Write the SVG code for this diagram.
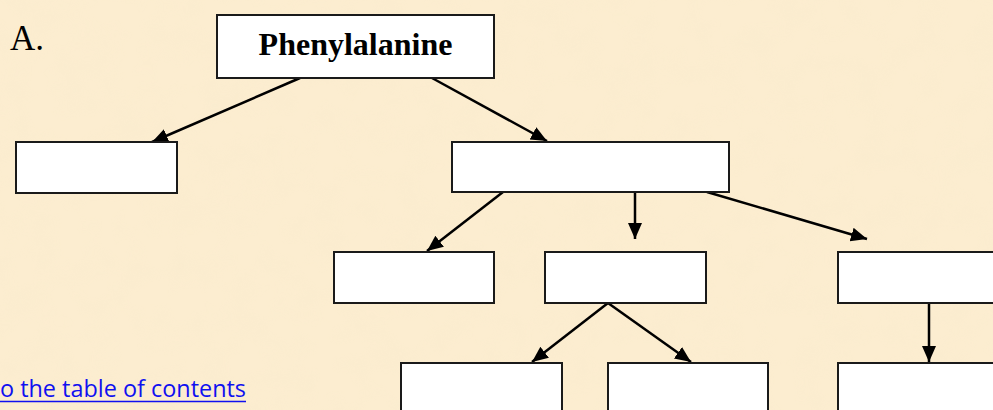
<svg xmlns="http://www.w3.org/2000/svg" width="993" height="410" viewBox="0 0 993 410">
  <style>
    .box { fill: #ffffff; stroke: #1a1a1a; stroke-width: 2; }
    .conn { stroke: #000000; stroke-width: 2.5; fill: none; marker-end: url(#ah); }
    .title { font-family: "Liberation Serif", "Times New Roman", serif; font-weight: bold; font-size: 32px; fill: #000; }
    .label { font-family: "Liberation Serif", "Times New Roman", serif; font-size: 35px; fill: #000; }
    .link { font-family: "Open Sans", "Noto Sans", sans-serif; font-size: 23px; fill: #1010f0; }
  </style>
  <defs>
    <marker id="ah" markerUnits="userSpaceOnUse" markerWidth="18" markerHeight="16" refX="16" refY="7" orient="auto">
      <path d="M0,0 L16,7 L0,14 z" fill="#000"/>
    </marker>
    <filter id="tex" x="0" y="0" width="100%" height="100%">
      <feTurbulence type="fractalNoise" baseFrequency="0.035" numOctaves="2" seed="7"/>
      <feColorMatrix type="matrix" values="0 0 0 0 0.93  0 0 0 0 0.82  0 0 0 0 0.6  0 0 0 0.9 -0.35"/>
    </filter>
  </defs>

  <rect x="0" y="0" width="993" height="410" fill="#fcedd0"/>
  <rect x="0" y="0" width="993" height="410" filter="url(#tex)" opacity="0.6"/>

  <text class="label" x="10" y="50">A.</text>

  <g id="connectors">
    <line class="conn" x1="300" y1="78" x2="152" y2="142"/>
    <line class="conn" x1="432" y1="78" x2="547" y2="141"/>
    <line class="conn" x1="503" y1="192" x2="427" y2="251"/>
    <line class="conn" x1="635" y1="192" x2="635" y2="239"/>
    <line class="conn" x1="707" y1="192" x2="867" y2="239"/>
    <line class="conn" x1="608" y1="303" x2="532" y2="362"/>
    <line class="conn" x1="608" y1="303" x2="691" y2="362"/>
    <line class="conn" x1="929" y1="303" x2="929" y2="362"/>
  </g>

  <g id="n-phenylalanine">
    <rect class="box" x="217" y="15" width="277" height="63"/>
    <text class="title" x="355.5" y="55" text-anchor="middle">Phenylalanine</text>
  </g>
  <g id="n-left"><rect class="box" x="16" y="142" width="161" height="51"/></g>
  <g id="n-middle"><rect class="box" x="452" y="142" width="277" height="50"/></g>
  <g id="n-l2a"><rect class="box" x="334" y="252" width="160" height="51"/></g>
  <g id="n-l2b"><rect class="box" x="545" y="252" width="161" height="51"/></g>
  <g id="n-l2c"><rect class="box" x="838" y="252" width="162" height="51"/></g>
  <g id="n-l3a"><rect class="box" x="401" y="363" width="161" height="52"/></g>
  <g id="n-l3b"><rect class="box" x="608" y="363" width="160" height="52"/></g>
  <g id="n-l3c"><rect class="box" x="838" y="363" width="162" height="52"/></g>

  <g id="link">
    <text class="link" x="0" y="397" textLength="246" lengthAdjust="spacingAndGlyphs">o the table of contents</text>
    <line x1="0" y1="401.5" x2="246" y2="401.5" stroke="#1010f0" stroke-width="1.5"/>
  </g>
</svg>
